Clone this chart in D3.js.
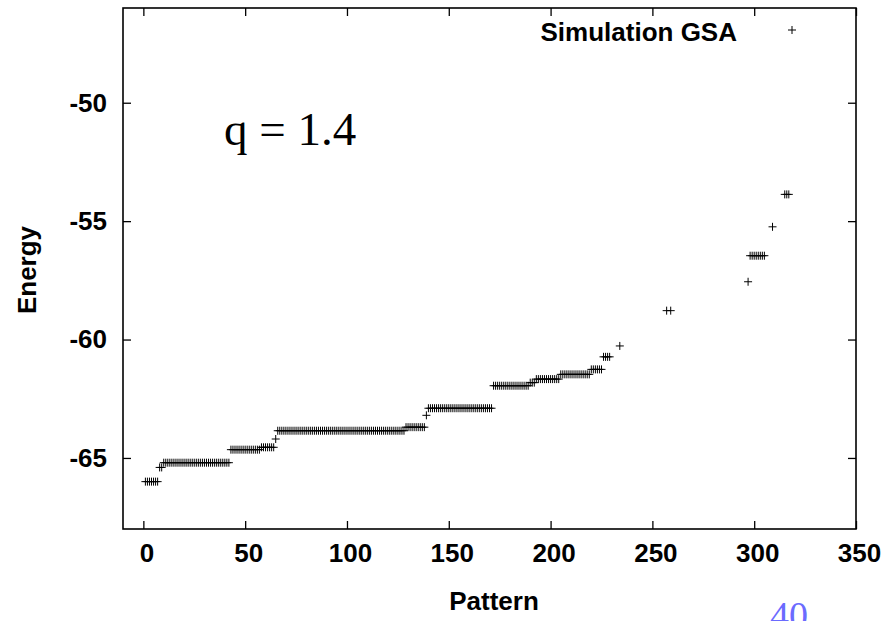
<!DOCTYPE html>
<html>
<head>
<meta charset="utf-8">
<script src="https://cdn.jsdelivr.net/npm/d3@7"></script>
<style>
  body { margin: 0; background: #fff; }
  text { font-family: "Liberation Sans", Arial, Helvetica, sans-serif; }
</style>
</head>
<body>
<svg id="chart" width="895" height="621"></svg>
<script>
// Axis ticks
const xTicks = [0, 50, 100, 150, 200, 250, 300, 350];
const yTicks = [-65, -60, -55, -50];

// Energy plateaus: patterns runStart[i]..runEnd[i] all sit at runEnergy[i]
const runStart  = [1,     8,     10,    43,     58,     65,    66,     129,   139,   140,   172,    190,    193,    205,    220,    226,    234,    257,    259,    297,    298,    309,    315];
const runEnd    = [7,     9,     42,    57,     64,     65,    128,    138,   139,   171,   189,    192,    204,    219,    225,    229,    234,    257,    259,    297,    305,    309,    317];
const runEnergy = [-66.0, -65.4, -65.2, -64.65, -64.55, -64.2, -63.85, -63.7, -63.2, -62.9, -61.95, -61.82, -61.67, -61.47, -61.26, -60.73, -60.27, -58.78, -58.78, -57.56, -56.46, -55.24, -53.87];

const seriesName = "Simulation GSA";

const points = [];
runStart.forEach((s, i) => {
  for (let p = s; p <= runEnd[i]; p++) points.push({ pattern: p, energy: runEnergy[i] });
});

const svg = d3.select("#chart");
const margin = { left: 123, top: 8, right: 39, bottom: 92 };
const W = 895, H = 621;
const x = d3.scaleLinear().domain([-10, 350]).range([margin.left, W - margin.right]);
const y = d3.scaleLinear().domain([-68, -46]).range([H - margin.bottom, margin.top]);

const font = "Liberation Sans, Arial, Helvetica, sans-serif";
const plain = d => String(d);   // hyphen-minus, as gnuplot prints it

function styleAxis(g, showLabels) {
  g.select(".domain").remove();
  g.selectAll(".tick line").attr("stroke", "#000").attr("stroke-width", 1.3);
  g.selectAll(".tick text")
    .attr("fill", "#000")
    .style("font-family", font)
    .style("font-size", "26px")
    .style("font-weight", "bold")
    .style("display", showLabels ? null : "none");
}

// bottom / top
svg.append("g")
  .attr("transform", `translate(0,${y.range()[0]})`)
  .call(d3.axisBottom(x).tickValues(xTicks).tickFormat(plain).tickSize(-8).tickPadding(15))
  .call(g => styleAxis(g, true))
  .call(g => g.selectAll(".tick text").attr("dx", 3));

svg.append("g")
  .attr("transform", `translate(0,${y.range()[1]})`)
  .call(d3.axisTop(x).tickValues(xTicks).tickSize(-8))
  .call(g => styleAxis(g, false));

// left / right
svg.append("g")
  .attr("transform", `translate(${x.range()[0]},0)`)
  .call(d3.axisLeft(y).tickValues(yTicks).tickFormat(plain).tickSize(-8).tickPadding(16))
  .call(g => styleAxis(g, true));

svg.append("g")
  .attr("transform", `translate(${x.range()[1]},0)`)
  .call(d3.axisRight(y).tickValues(yTicks).tickSize(-8))
  .call(g => styleAxis(g, false));

// plot frame
svg.append("rect")
  .attr("x", x.range()[0]).attr("y", y.range()[1])
  .attr("width", x.range()[1] - x.range()[0])
  .attr("height", y.range()[0] - y.range()[1])
  .attr("fill", "none").attr("stroke", "#000").attr("stroke-width", 1.6);

// point markers
const plus = "M-4,0H4M0,-4V4";
svg.append("g").selectAll("path")
  .data(points)
  .join("path")
  .attr("d", plus)
  .attr("transform", d => `translate(${x(d.pattern)},${y(d.energy)})`)
  .attr("fill", "none").attr("stroke", "#000").attr("stroke-width", 1);

// legend
svg.append("text")
  .attr("x", 737).attr("y", 41)
  .attr("text-anchor", "end")
  .style("font-size", "26px").style("font-weight", "bold")
  .text(seriesName);
svg.append("path")
  .attr("d", plus)
  .attr("transform", "translate(792,30)")
  .attr("fill", "none").attr("stroke", "#000").attr("stroke-width", 1);

// axis titles
svg.append("text")
  .attr("x", 494).attr("y", 610)
  .attr("text-anchor", "middle")
  .style("font-size", "26px").style("font-weight", "bold")
  .text("Pattern");
svg.append("text")
  .attr("transform", "translate(36,270) rotate(-90)")
  .attr("text-anchor", "middle")
  .style("font-size", "26px").style("font-weight", "bold")
  .text("Energy");

// annotation
svg.append("text")
  .attr("x", 224).attr("y", 145)
  .style("font-family", "Liberation Serif, Times New Roman, serif")
  .style("font-size", "47px")
  .text("q = 1.4");

// page number
svg.append("text")
  .attr("x", 770).attr("y", 628)
  .style("font-family", "Liberation Serif, Times New Roman, serif")
  .style("font-size", "38px")
  .attr("fill", "#6b6bff")
  .text("40");
</script>
</body>
</html>
